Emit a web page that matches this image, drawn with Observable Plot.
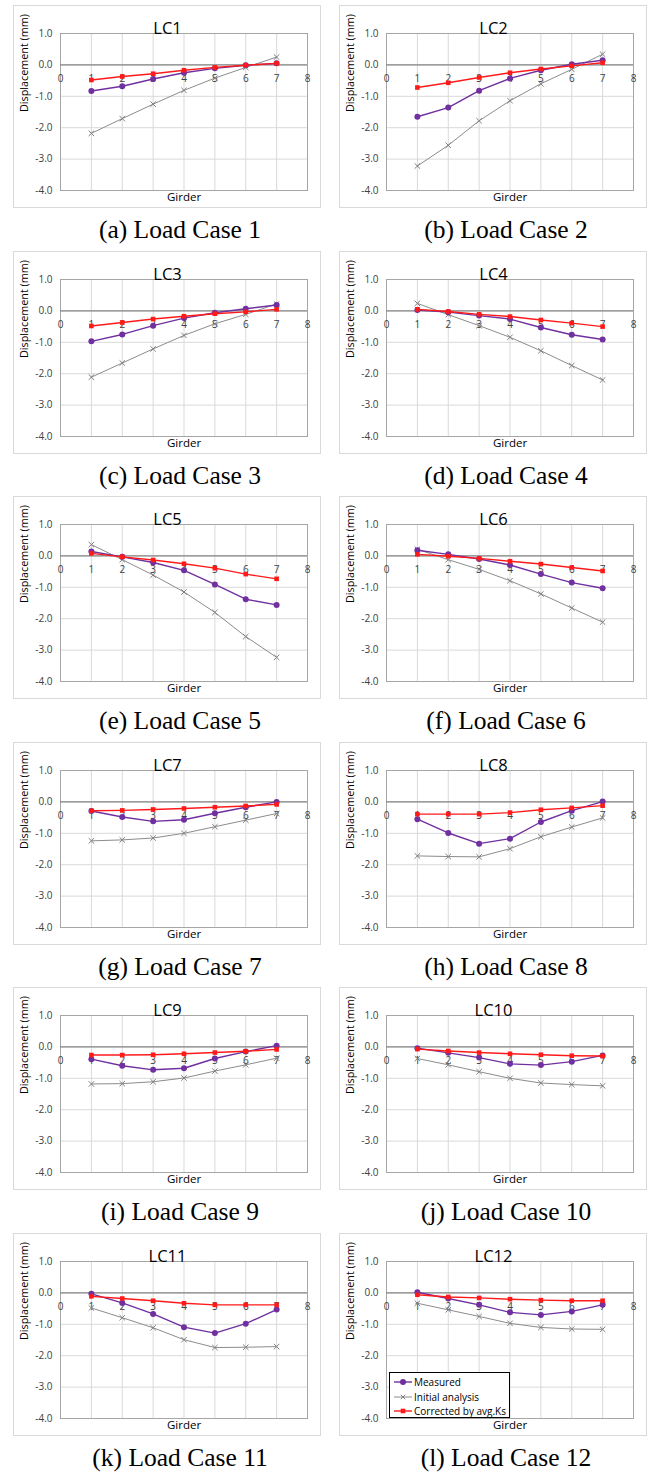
<!DOCTYPE html>
<html><head><meta charset="utf-8">
<script src="https://cdn.jsdelivr.net/npm/d3@7"></script>
<script src="https://cdn.jsdelivr.net/npm/@observablehq/plot@0.6"></script>
<style>
html,body{margin:0;padding:0;background:#fff;}
body{position:relative;width:649px;height:1476px;overflow:hidden;}
.box{position:absolute;width:308px;height:203px;box-sizing:border-box;border:1px solid #d9d9d9;pointer-events:none;}
.chart{position:absolute;}
.cap{position:absolute;width:308px;height:28px;line-height:28px;text-align:center;font-family:"Liberation Serif","Times New Roman",serif;font-size:25.5px;color:#000;white-space:nowrap;}
.legend{position:absolute;left:389px;top:1372px;width:121px;height:46px;box-sizing:border-box;border:1px solid #000;background:#fff;font-family:"Open Sans",sans-serif;font-size:10px;color:#000;padding:2px 0 0 4px;}
.legend div{height:14.5px;line-height:14.5px;white-space:nowrap;display:flex;align-items:center;}
.legend svg{margin-right:2px;}
</style></head><body>
<script>
// ---- data ----
const girders = [1, 2, 3, 4, 5, 6, 7];
const loadCases = ["LC1","LC2","LC3","LC4","LC5","LC6","LC7","LC8","LC9","LC10","LC11","LC12"];
const captions = ["(a) Load Case 1","(b) Load Case 2","(c) Load Case 3","(d) Load Case 4","(e) Load Case 5","(f) Load Case 6","(g) Load Case 7","(h) Load Case 8","(i) Load Case 9","(j) Load Case 10","(k) Load Case 11","(l) Load Case 12"];
const seriesNames = ["Measured", "Initial analysis", "Corrected by avg.Ks"];
const measured = [
  [-0.83,-0.68,-0.45,-0.25,-0.11,-0.01,0.05],
  [-1.65,-1.36,-0.82,-0.43,-0.17,0.02,0.15],
  [-0.97,-0.75,-0.47,-0.23,-0.06,0.07,0.19],
  [0.03,-0.04,-0.15,-0.26,-0.53,-0.76,-0.91],
  [0.14,-0.03,-0.21,-0.46,-0.91,-1.38,-1.56],
  [0.18,0.05,-0.10,-0.29,-0.58,-0.85,-1.03],
  [-0.29,-0.48,-0.62,-0.57,-0.36,-0.17,0.00],
  [-0.55,-0.99,-1.33,-1.17,-0.64,-0.28,0.01],
  [-0.39,-0.60,-0.73,-0.68,-0.37,-0.15,0.04],
  [-0.04,-0.19,-0.34,-0.54,-0.58,-0.47,-0.27],
  [-0.03,-0.32,-0.67,-1.09,-1.28,-0.98,-0.53],
  [0.02,-0.18,-0.38,-0.62,-0.70,-0.59,-0.38]
];
const initial = [
  [-2.18,-1.71,-1.25,-0.81,-0.42,-0.08,0.25],
  [-3.22,-2.56,-1.78,-1.14,-0.60,-0.14,0.34],
  [-2.11,-1.66,-1.21,-0.78,-0.41,-0.11,0.22],
  [0.24,-0.12,-0.47,-0.84,-1.27,-1.74,-2.20],
  [0.36,-0.12,-0.61,-1.15,-1.80,-2.57,-3.23],
  [0.21,-0.12,-0.43,-0.79,-1.21,-1.66,-2.11],
  [-1.24,-1.21,-1.15,-1.00,-0.79,-0.58,-0.37],
  [-1.72,-1.74,-1.75,-1.49,-1.11,-0.80,-0.51],
  [-1.18,-1.17,-1.11,-0.99,-0.77,-0.57,-0.36],
  [-0.37,-0.57,-0.79,-1.00,-1.15,-1.20,-1.24],
  [-0.48,-0.79,-1.11,-1.49,-1.74,-1.73,-1.71],
  [-0.33,-0.54,-0.75,-0.97,-1.10,-1.15,-1.16]
];
const corrected = [
  [-0.48,-0.37,-0.28,-0.17,-0.08,-0.01,0.05],
  [-0.72,-0.57,-0.40,-0.25,-0.13,-0.03,0.07],
  [-0.48,-0.37,-0.26,-0.17,-0.09,-0.03,0.05],
  [0.05,-0.02,-0.11,-0.18,-0.29,-0.39,-0.50],
  [0.08,-0.03,-0.13,-0.25,-0.39,-0.58,-0.73],
  [0.05,-0.01,-0.08,-0.17,-0.26,-0.37,-0.48],
  [-0.28,-0.27,-0.24,-0.21,-0.17,-0.13,-0.08],
  [-0.39,-0.39,-0.39,-0.34,-0.25,-0.19,-0.12],
  [-0.26,-0.26,-0.25,-0.22,-0.18,-0.14,-0.08],
  [-0.07,-0.13,-0.18,-0.22,-0.25,-0.28,-0.29],
  [-0.11,-0.18,-0.25,-0.33,-0.38,-0.38,-0.38],
  [-0.06,-0.13,-0.16,-0.20,-0.23,-0.25,-0.25]
];
const xTicks = [0, 1, 2, 3, 4, 5, 6, 7, 8];
const yTicks = [-4, -3, -2, -1, 0, 1];
const colors = {measured: "#7030a0", initial: "#8c8c8c", initialMark: "#7f7f7f", corrected: "#ff1a1a"};

// ---- layout ----
const colX = [13, 339];
const rowPitch = 245.6;
const font = "'Open Sans', sans-serif";

function makePanel(i) {
  const rows = girders.map((g, j) => ({g, m: measured[i][j], a: initial[i][j], c: corrected[i][j]}));
  return Plot.plot({
    width: 308, height: 203,
    marginLeft: 47, marginRight: 14, marginTop: 28, marginBottom: 18,
    x: {domain: [0, 8], axis: null},
    y: {domain: [-4, 1], axis: null},
    style: {fontFamily: font, background: "transparent", overflow: "visible"},
    marks: [
      Plot.gridX(xTicks, {stroke: "#d9d9d9", strokeOpacity: 1}),
      Plot.gridY(yTicks, {stroke: "#d9d9d9", strokeOpacity: 1}),
      Plot.frame({stroke: "#a6a6a6"}),
      Plot.ruleY([0], {stroke: "#868686", strokeWidth: 1.2}),
      Plot.axisY(yTicks, {tickSize: 0, tickPadding: 8, tickFormat: d => d.toFixed(1), label: null, fontSize: 10, fill: "#404040"}),
      Plot.text(xTicks, {x: d => d, y: () => 0, dy: 13.5, text: d => String(d), fontSize: 10, fill: "#404040"}),
      Plot.text([loadCases[i]], {frameAnchor: "top", dx: -16.5, dy: -11, fontSize: 16.5, fill: "#000"}),
      Plot.text(["Displacement (mm)"], {frameAnchor: "left", rotate: -90, dx: -36, fontSize: 10.8, fill: "#000"}),
      Plot.text(["Girder"], {frameAnchor: "bottom", dy: 10, fontSize: 11.5, fill: "#000"}),
      Plot.line(rows, {x: "g", y: "a", stroke: colors.initial, strokeWidth: 1}),
      Plot.dot(rows, {x: "g", y: "a", symbol: "times", r: 2.6, stroke: colors.initialMark, strokeWidth: 1}),
      Plot.line(rows, {x: "g", y: "m", stroke: colors.measured, strokeWidth: 1.4}),
      Plot.dot(rows, {x: "g", y: "m", symbol: "circle", r: 3, fill: colors.measured, stroke: "none"}),
      Plot.line(rows, {x: "g", y: "c", stroke: colors.corrected, strokeWidth: 1.4}),
      Plot.dot(rows, {x: "g", y: "c", symbol: "square", r: 2.6, fill: colors.corrected, stroke: "none"})
    ]
  });
}

for (let i = 0; i < 12; i++) {
  const col = i % 2, row = Math.floor(i / 2);
  const left = colX[col], top = 5 + rowPitch * row;
  const svg = makePanel(i);
  const wrap = document.createElement("div");
  wrap.className = "chart";
  wrap.style.left = left + "px";
  wrap.style.top = top + "px";
  wrap.appendChild(svg);
  document.body.appendChild(wrap);
  const box = document.createElement("div");
  box.className = "box";
  box.style.left = left + "px";
  box.style.top = top + "px";
  document.body.appendChild(box);
  const cap = document.createElement("div");
  cap.className = "cap";
  cap.style.left = (left + 13) + "px";
  cap.style.top = (230 + rowPitch * row - 14) + "px";
  cap.textContent = captions[i];
  document.body.appendChild(cap);
}

// legend (inside LC12 panel)
const legend = document.createElement("div");
legend.className = "legend";
const samples = [
  `<svg width="18" height="10"><line x1="0" y1="5" x2="18" y2="5" stroke="${colors.measured}" stroke-width="1.4"/><circle cx="9" cy="5" r="3" fill="${colors.measured}"/></svg>`,
  `<svg width="18" height="10"><line x1="0" y1="5" x2="18" y2="5" stroke="${colors.initial}" stroke-width="1"/><path d="M6.8,2.8L11.2,7.2M11.2,2.8L6.8,7.2" stroke="${colors.initialMark}" stroke-width="1"/></svg>`,
  `<svg width="18" height="10"><line x1="0" y1="5" x2="18" y2="5" stroke="${colors.corrected}" stroke-width="1.4"/><rect x="6.7" y="2.7" width="4.6" height="4.6" fill="${colors.corrected}"/></svg>`
];
seriesNames.forEach((name, k) => {
  const d = document.createElement("div");
  d.innerHTML = samples[k] + "<span></span>";
  d.querySelector("span").textContent = name;
  legend.appendChild(d);
});
document.body.appendChild(legend);
</script>
</body></html>
